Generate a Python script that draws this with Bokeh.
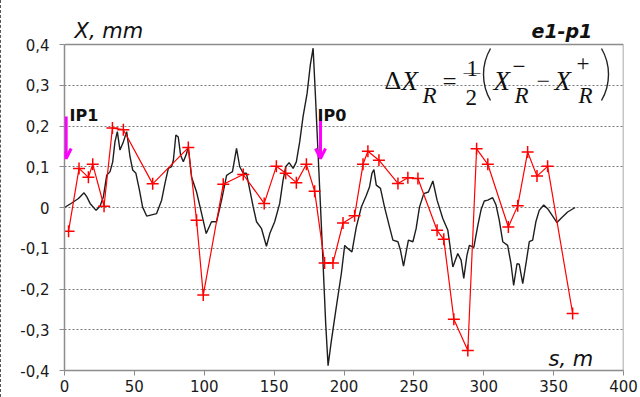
import math
from bokeh.plotting import figure
from bokeh.models import (Range1d, FixedTicker, CustomJSTickFormatter, Label,
                          Arrow, OpenHead)
from bokeh.embed import file_html
from bokeh.resources import INLINE

# ---------------- data ----------------
x_ticks = [0, 50, 100, 150, 200, 250, 300, 350, 400]
y_ticks = [-0.4, -0.3, -0.2, -0.1, 0.0, 0.1, 0.2, 0.3, 0.4]

# model curve (black)
black_s = [0, 5.2, 10, 14, 16, 18.3, 22.6, 25.4, 27.8, 30.2, 32.6, 34.5, 36.1, 37.8,
           39.7, 42.1, 44.5, 46.9, 48.8, 51.1, 53.6, 55.9, 58.8, 65.9, 69.5, 71.9,
           74.3, 76.6, 77.9, 79.7, 81.4, 83.1, 85, 86.9, 88.6, 90.9, 94.5, 98,
           101.4, 105.2, 108.8, 112.4, 116, 118.3, 120.2, 123.1, 125.4, 127.9,
           130.2, 132.6, 135, 137.4, 141, 144.5, 146.9, 150.4, 154, 156.4, 158.3,
           160.7, 163.6, 165.9, 168.3, 170.7, 173.6, 175.9, 177.9, 179.7, 182.1,
           184.5, 186.9, 188.6, 191, 194.5, 198.1, 200.5, 202.9, 205.7, 208.8,
           212.4, 216, 218.3, 220, 221.4, 223.1, 226.1, 229, 232.6, 235, 238.6,
           240.4, 242.6, 244.5, 246.1, 249.3, 251.6, 254, 257.1, 260.4, 263.6,
           266.6, 270.7, 274.3, 277.9, 281.4, 283.8, 285.7, 288, 289.7, 292.9,
           295.7, 298.1, 300.4, 302.9, 306.4, 308.8, 311.1, 313.6, 317.1, 319.5,
           321.4, 323.8, 325.4, 327.9, 330.2, 332.6, 335, 337.3, 339.7, 342.9,
           345.7, 349.3, 352.4, 355.2, 360, 365.4]
black_x = [0.000, 0.011, 0.022, 0.036, 0.026, 0.010, -0.007, 0.003, 0.026, 0.079,
           0.088, 0.112, 0.161, 0.186, 0.141, 0.161, 0.186, 0.124, 0.092, 0.084,
           0.043, 0.001, -0.021, -0.015, 0.018, 0.059, 0.096, 0.100, 0.116, 0.178,
           0.173, 0.128, 0.112, 0.128, 0.149, 0.075, 0.038, -0.013, -0.064, -0.035,
           -0.035, 0.018, 0.079, 0.084, 0.088, 0.145, 0.100, 0.084, 0.084, 0.043,
           0.002, -0.035, -0.052, -0.095, -0.064, -0.035, 0.010, 0.067, 0.100,
           0.110, 0.096, 0.112, 0.161, 0.223, 0.280, 0.350, 0.391, 0.264, 0.084,
           -0.097, -0.285, -0.388, -0.326, -0.244, -0.162, -0.093, -0.101, -0.109,
           -0.048, 0.001, 0.030, 0.051, 0.084, 0.093, 0.055, 0.047, 0.001, -0.048,
           -0.080, -0.084, -0.105, -0.144, -0.109, -0.080, -0.084, -0.052, 0.001,
           0.034, 0.038, 0.065, 0.018, -0.027, -0.056, -0.146, -0.113, -0.129,
           -0.174, -0.117, -0.093, -0.098, -0.045, -0.005, 0.016, 0.018, 0.024,
           0.006, -0.031, -0.084, -0.093, -0.138, -0.191, -0.138, -0.139, -0.187,
           -0.138, -0.084, -0.080, -0.035, -0.007, 0.006, -0.003, -0.021, -0.037,
           -0.027, -0.011, 0.000]

# measured (red)
red_s = [2.9, 10.4, 17.1, 20.2, 28.3, 34.3, 42.1, 63.1, 88.6, 94.5, 99.3, 113.6,
         127.9, 142.9, 151.6, 158.3, 165.9, 173.1, 179.0, 186.1, 192.1, 199.3,
         207.6, 213.6, 217.1, 225.0, 238.6, 245.7, 252.9, 266.6, 271.4, 278.6,
         288.6, 294.9, 302.9, 317.6, 324.3, 331.4, 338.1, 345.7, 363.6]
red_x = [-0.058, 0.096, 0.074, 0.106, 0.003, 0.195, 0.191, 0.058, 0.147, -0.031,
         -0.215, 0.057, 0.081, 0.010, 0.101, 0.084, 0.061, 0.106, 0.040, -0.136,
         -0.136, -0.038, -0.020, 0.106, 0.138, 0.116, 0.059, 0.073, 0.071, -0.056,
         -0.078, -0.274, -0.351, 0.144, 0.106, -0.048, 0.004, 0.136, 0.077, 0.101,
         -0.260]

ip_names = ["IP1", "IP0"]
ip_s = [1.2, 183.2]

assert len(black_s) == len(black_x)
assert len(red_s) == len(red_x)

# ---------------- figure ----------------
FL, FR, FT, FB = 63, 622, 44, 370   # pixel edges of the data box (for annotation placement)


def dx(px):
    return (px - FL) / (FR - FL) * 400.0


def dy(py):
    return 0.4 - (py - FT) / (FB - FT) * 0.8


# the drawing area reaches the top of the canvas so the headings are not clipped;
# the data box itself is still 0..400 x -0.4..0.4
p = figure(width=640, height=397, x_range=Range1d(0, 400), y_range=Range1d(-0.4, dy(0)),
           output_backend="svg", toolbar_location=None,
           min_border_left=FL, min_border_right=640 - FR,
           min_border_top=0, min_border_bottom=397 - FB)
p.title.visible = False
p.background_fill_color = "white"
p.border_fill_color = "white"
p.outline_line_color = None
p.styles = {"border-left": "1px dashed #555555"}

p.xaxis.ticker = FixedTicker(ticks=x_ticks)
p.yaxis.ticker = FixedTicker(ticks=y_ticks)
p.yaxis.bounds = (-0.4, 0.4)
p.yaxis.formatter = CustomJSTickFormatter(code="""
    if (Math.abs(tick) < 1e-9) { return "0"; }
    return tick.toFixed(1).replace(".", ",");
""")
for ax in (p.xaxis, p.yaxis):
    ax.axis_line_color = "#8c8c8c"
    ax.axis_line_width = 1.5
    ax.major_tick_line_color = "#8c8c8c"
    ax.major_tick_in = 0
    ax.major_tick_out = 5
    ax.minor_tick_line_color = None
    ax.major_label_text_font = "DejaVu Sans"
    ax.major_label_text_font_size = "15px"
    ax.major_label_text_color = "#1a1a1a"
p.xaxis.major_label_standoff = 4
p.yaxis.major_label_standoff = 10

p.xgrid.visible = False
p.ygrid.grid_line_color = "#7a7a7a"
p.ygrid.grid_line_dash = "2 2"
p.ygrid.grid_line_width = 1

# top and right edges of the data box
p.segment(x0=[0, 400], y0=[0.4, -0.4], x1=[400, 400], y1=[0.4, 0.4],
          line_color="#8c8c8c", line_width=1.5)

# curves
p.line(black_s, black_x, line_color="#1e1e1e", line_width=1.4)
p.line(red_s, red_x, line_color="#ff0000", line_width=1.2)
p.scatter(red_s, red_x, marker="cross", size=12, line_color="#ff0000", line_width=1.5)

# IP markers
ip_label_px = [68, 316]
for name, s, lpx in zip(ip_names, ip_s, ip_label_px):
    p.add_layout(Arrow(end=OpenHead(size=10, line_color="#ff00ff", line_width=3),
                       x_start=s, y_start=dy(116), x_end=s, y_end=dy(158),
                       line_color="#ff00ff", line_width=3))
    p.add_layout(Label(x=dx(lpx), y=dy(115), text=name, text_font="DejaVu Sans",
                       text_font_size="16px", text_font_style="bold",
                       text_color="#111111", text_baseline="alphabetic",
                       text_align="left"))

# headings
p.add_layout(Label(x=dx(73), y=dy(30), text="X, mm", text_font="DejaVu Sans",
                   text_font_size="21px", text_font_style="italic",
                   text_color="#111111", text_baseline="alphabetic"))
p.add_layout(Label(x=dx(530), y=dy(30), text="e1-p1", text_font="DejaVu Sans",
                   text_font_size="19px", text_font_style="bold italic",
                   text_color="#111111", text_baseline="alphabetic"))
p.add_layout(Label(x=dx(547), y=dy(358), text="s, m", text_font="DejaVu Sans",
                   text_font_size="21px", text_font_style="italic",
                   text_color="#111111", text_baseline="alphabetic"))

# formula  ΔX_R = 1/2 (X_R^- - X_R^+)
serif = "Liberation Serif"
pieces = [("\u0394", 383, 80, "normal", "26px"),
          ("X", 400, 80, "italic", "27px"),
          ("R", 421, 95, "italic", "23px"),
          ("=", 441, 81, "normal", "25px"),
          ("1", 465, 68, "normal", "23px"),
          ("2", 464, 97, "normal", "23px"),
          ("X", 492, 80, "italic", "27px"),
          ("\u2212", 511, 66, "normal", "23px"),
          ("R", 513, 95, "italic", "23px"),
          ("\u2212", 535, 81, "normal", "24px"),
          ("X", 553, 80, "italic", "27px"),
          ("+", 575, 63, "normal", "23px"),
          ("R", 577, 95, "italic", "23px")]
for t, px, py, style, size in pieces:
    p.add_layout(Label(x=dx(px), y=dy(py), text=t, text_font=serif,
                       text_font_size=size, text_font_style=style,
                       text_color="#111111", text_baseline="alphabetic",
                       text_align="left"))
# fraction bar
p.segment(x0=[dx(462)], y0=[dy(73)], x1=[dx(479)], y1=[dy(73)],
          line_color="#666666", line_width=1.2)
# parentheses drawn as arcs
rad = (26 ** 2 + 7 ** 2) / 14.0
half = math.degrees(math.asin(26 / rad))
p.arc(x=[dx(482 + rad)], y=[dy(74)], radius=rad, radius_units="screen",
      start_angle=math.radians(180 - half), end_angle=math.radians(180 + half),
      direction="anticlock", line_color="#222222", line_width=1.4)
p.arc(x=[dx(607 - rad)], y=[dy(74)], radius=rad, radius_units="screen",
      start_angle=math.radians(-half), end_angle=math.radians(half),
      direction="anticlock", line_color="#222222", line_width=1.4)

open("out.html", "w").write(file_html(p, INLINE))
